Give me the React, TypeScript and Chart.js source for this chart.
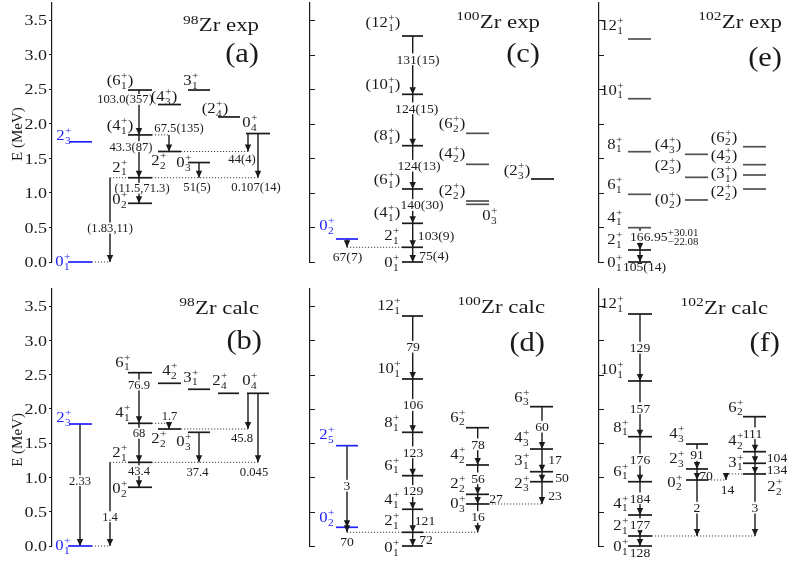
import React, { useEffect, useRef } from "react";
import { Chart, registerables } from "chart.js";
Chart.register(...registerables);

const FONT = '"Liberation Serif", "Times New Roman", serif';
const INK = "#1a1a1a";
const BLUE = "#2222ff";
const GRAY = "#505050";

// ---------------- DATA ----------------
// (a) 98Zr experiment
const aNames = ["0_1^+", "2_3^+", "2_1^+", "0_2^+", "(4_1^+)", "(6_1^+)", "(4_3^+)", "3_1^+", "(2_4^+)", "0_4^+", "2_2^+", "0_3^+"];
const aE = [0, 1.74, 1.22, 0.85, 1.84, 2.49, 2.28, 2.49, 2.1, 1.86, 1.6, 1.44];
const aFrom = [2, 5, 4, 2, 4, 11, 9, 9];
const aTo = [0, 4, 2, 3, 10, 2, 10, 2];
const aB = ["(1.83,11)", "103.0(357)", "43.3(87)", "(11.5,71.3)", "67.5(135)", "51(5)", "44(4)", "0.107(14)"];

// (b) 98Zr calculation
const bNames = ["0_1^+", "2_3^+", "2_1^+", "0_2^+", "4_1^+", "6_1^+", "2_2^+", "4_2^+", "3_1^+", "0_3^+", "2_4^+", "0_4^+"];
const bE = [0, 1.78, 1.221, 0.857, 1.79, 2.529, 1.707, 2.374, 2.287, 1.659, 2.228, 2.228];
const bFrom = [1, 2, 5, 4, 2, 4, 9, 11, 11];
const bTo = [0, 0, 4, 2, 3, 6, 2, 6, 2];
const bB = ["2.33", "1.4", "76.9", "68", "43.4", "1.7", "37.4", "45.8", "0.045"];

// (c) 100Zr experiment
const cNames = ["0_1^+", "2_1^+", "0_2^+", "(4_1^+)", "(6_1^+)", "(8_1^+)", "(10_1^+)", "(12_1^+)", "(6_2^+)", "(4_2^+)", "(2_2^+)", "0_3^+", "(2_3^+)"];
const cE = [0, 0.213, 0.333, 0.56, 1.057, 1.684, 2.428, 3.272, 1.863, 1.414, 0.883, 0.835, 1.202];
const cFrom = [2, 7, 6, 5, 4, 3, 1];
const cTo = [1, 6, 5, 4, 3, 1, 0];
const cB = ["67(7)", "131(15)", "124(15)", "124(13)", "140(30)", "103(9)", "75(4)"];

// (d) 100Zr calculation
const dNames = ["0_1^+", "2_1^+", "0_2^+", "2_5^+", "4_1^+", "6_1^+", "8_1^+", "10_1^+", "12_1^+", "6_2^+", "4_2^+", "2_2^+", "0_3^+", "6_3^+", "4_3^+", "3_1^+", "2_3^+"];
const dE = [0, 0.2, 0.273, 1.464, 0.536, 1.026, 1.659, 2.437, 3.356, 1.726, 1.182, 0.754, 0.613, 2.033, 1.415, 1.084, 0.938];
const dFrom = [3, 2, 8, 7, 6, 5, 4, 1, 9, 10, 11, 12, 13, 14, 15, 16];
const dTo = [2, 1, 7, 6, 5, 4, 1, 0, 10, 11, 12, 1, 14, 15, 16, 12];
const dB = ["3", "70", "79", "106", "123", "129", "121", "72", "78", "56", "27", "16", "60", "17", "50", "23"];

// (e) 102Zr experiment
const eNames = ["12_1^+", "10_1^+", "8_1^+", "6_1^+", "4_1^+", "2_1^+", "0_1^+", "(0_2^+)", "(2_3^+)", "(4_3^+)", "(2_2^+)", "(3_1^+)", "(4_2^+)", "(6_2^+)"];
const eE = [3.229, 2.364, 1.597, 0.98, 0.497, 0.174, 0, 0.898, 1.226, 1.559, 1.057, 1.26, 1.409, 1.669];
const eFrom = [4, 5];
const eTo = [5, 6];
const eB = ["166.95^{+30.01}_{\u221222.08}", "105(14)"];

// (f) 102Zr calculation
const fNames = ["12_1^+", "10_1^+", "8_1^+", "6_1^+", "4_1^+", "2_1^+", "0_1^+", "4_3^+", "2_3^+", "0_2^+", "6_2^+", "4_2^+", "3_1^+", "2_2^+"];
const fE = [3.385, 2.408, 1.595, 0.938, 0.452, 0.146, 0, 1.488, 1.124, 0.963, 1.887, 1.376, 1.207, 1.051];
const fFrom = [0, 1, 2, 3, 4, 5, 7, 8, 9, 13, 10, 11, 12, 13];
const fTo = [1, 2, 3, 4, 5, 6, 8, 9, 5, 9, 11, 12, 13, 5];
const fB = ["129", "157", "176", "184", "177", "128", "91", "70", "2", "14", "111", "104", "134", "3"];

const yTickStep = 0.5;
const yMax = 3.75;

// ---------------- LAYOUT (horizontal columns, label offsets) ----------------
const aLX = [[68, 92], [69, 92], [128, 152], [128, 152], [128, 152], [128, 152], [158, 181], [188, 210], [218, 240], [246, 270], [158, 181], [188, 210]];
const aLab = [[63, -1], [64, -7], [120, -11], [120, -4], [120, -10], [120, -10], [164, -8], [191, -10], [215, -9], [250, -11], [159, 9], [184, 0]];
const aArrX = [110, 139, 139, 139, 169, 199, 248, 258];
const aBLab = [[110, 0.492, 1], [125, 2.355, 1], [131, 1.67, 1], [142, 1.067, 1], [179, 1.936, 0], [197, 1.08, 0], [242, 1.49, 0], [256, 1.08, 0]];
const aDots = [[0, 92, 110], [2, 110, 128], [2, 152, 258], [4, 152, 169], [10, 181, 248]];

const bLX = [[68, 92], [69, 92], [128, 152], [128, 152], [128, 152], [128, 152], [158, 181], [158, 181], [188, 210], [188, 210], [218, 239], [247, 269]];
const bLab = [[63, -1], [64, -7], [120, -10.5], [120, 1], [123, -11.5], [123, -11], [159, 9], [170, -13], [191, -12.5], [184, 9], [220, -13], [250, -13]];
const bArrX = [80, 110, 139, 139, 139, 169, 199, 248, 258];
const bBLab = [[80, 0.953, 1], [110, 0.428, 1], [139, 2.349, 1], [139, 1.645, 1], [139, 1.099, 1], [169.5, 1.897, 0], [197.5, 1.084, 0], [242, 1.572, 0], [254, 1.075, 0]];
const bDots = [[0, 92, 110], [2, 110, 128], [2, 152, 258], [4, 152, 169], [6, 181, 248]];

const cLX = [[402, 423], [402, 423], [336, 358], [402, 423], [402, 423], [402, 423], [402, 423], [402, 423], [466, 489], [466, 489], [466, 489], [466, 489], [531, 554]];
const cLab = [[392, 0], [392, -12], [327, -14], [387, -11.5], [387, -10], [387, -10.5], [383, -10], [383, -14], [452, -10.5], [452, -11], [452, -11], [490, 11], [517, -9]];
const cArrX = [347, 412.7, 412.7, 412.7, 412.7, 412.7, 412.7];
const cBLab = [[347.5, 0.072, 0], [418, 2.935, 1], [416.7, 2.225, 1], [419, 1.394, 1], [422, 0.825, 1], [436, 0.376, 0], [434, 0.087, 0]];
const cDots = [[1, 347, 402]];

const dLX = [[402, 423], [402, 423], [336, 358], [336, 358], [402, 423], [402, 423], [402, 423], [402, 423], [402, 423], [466, 489], [466, 489], [466, 489], [466, 489], [530, 553], [530, 553], [530, 553], [530, 553]];
const dLab = [[392, 1], [392, -12], [327, -10], [327, -11.5], [392, -10], [392, -11], [392, -10.5], [389, -10.5], [389, -11], [458, -11], [458, -10.5], [458, -11], [458, -1], [522, -10], [522, -12], [522, -11.5], [522, 1]];
const dArrX = [347, 347, 412.7, 412.7, 412.7, 412.7, 412.7, 412.7, 477.7, 477.7, 477.7, 477.7, 542, 542, 542, 542];
const dBLab = [[347, 0.88, 1], [347, 0.063, 0], [413, 2.908, 1], [413, 2.058, 1], [413, 1.367, 1], [413, 0.803, 1], [425, 0.369, 0], [426, 0.088, 0], [478, 1.484, 1], [478, 0.988, 1], [496, 0.686, 0], [478, 0.423, 1], [542, 1.741, 1], [555, 1.265, 0], [562, 1.003, 0], [555, 0.73, 0]];
const dDots = [[1, 347, 402], [1, 423, 478], [12, 489, 542]];

const eLX = [[628, 651], [628, 651], [628, 651], [628, 651], [628, 651], [628, 651], [628, 651], [685, 708], [685, 708], [685, 708], [743, 766], [743, 766], [743, 766], [743, 766]];
const eLab = [[612, -14], [612, -9], [615, -8], [615, -10], [615, -11], [615, -10.7], [615, 0], [668, -1], [668, -12], [668, -10], [724, 2.5], [724, -2], [724, -10], [724, -10]];
const eArrX = [640, 640];
const eBLab = [[630, 0.366, 1, 1, 0.8], [644.5, -0.07, 0]];
const eDots: number[][] = [];

const fLX = [[628, 652], [628, 652], [628, 652], [628, 652], [628, 652], [628, 652], [628, 652], [686, 708], [686, 708], [686, 708], [743, 766], [743, 766], [743, 766], [743, 766]];
const fLab = [[612, -10.7], [612, -11.7], [621, -10], [621, -11], [621, -12.3], [621, -11], [621, 0], [677, -10.7], [677, -10.7], [675, 1.7], [736, -10], [736, -11.7], [736, -1.6], [775, 12]];
const fArrX = [640, 640, 640, 640, 640, 640, 697, 697, 697, 726, 755, 755, 755, 755];
const fBLab = [[640, 2.894, 1], [640, 2.009, 1], [640, 1.261, 1], [640, 0.696, 1], [640, 0.317, 1], [640, -0.098, 0], [697, 1.328, 1], [706, 1.021, 0], [697, 0.559, 1], [727.5, 0.827, 0], [752.5, 1.645, 1], [777, 1.294, 0], [777, 1.119, 0], [755, 0.559, 1]];
const fDots = [[5, 652, 755], [9, 708, 726], [13, 726, 743]];

type Geo = {
  axisX: number; right: number; top: number; bottom: number; left: boolean;
  title: string; tRight: number; tE: number; tag: string; gRight: number; gE: number;
  yTitleE?: number; fs: number;
};
type Panel = {
  names: string[]; E: number[]; from: number[]; to: number[]; b: string[];
  lx: number[][]; lab: number[][]; blue: number[]; gray: number[];
  ax: number[]; blab: number[][]; dots: number[][]; geo: Geo;
};

const PANELS: Panel[] = [
  { names: aNames, E: aE, from: aFrom, to: aTo, b: aB, lx: aLX, lab: aLab, blue: [0, 1], gray: [], ax: aArrX, blab: aBLab, dots: aDots,
    geo: { axisX: 52, right: 290, top: 3, bottom: 262, left: true, title: "^{98}Zr exp", tRight: 259, tE: 3.431, tag: "(a)", gRight: 259, gE: 3.026, yTitleE: 1.853, fs: 12 } },
  { names: bNames, E: bE, from: bFrom, to: bTo, b: bB, lx: bLX, lab: bLab, blue: [0, 1], gray: [], ax: bArrX, blab: bBLab, dots: bDots,
    geo: { axisX: 52, right: 290, top: 289, bottom: 546, left: true, title: "^{98}Zr calc", tRight: 259, tE: 3.473, tag: "(b)", gRight: 262, gE: 3.006, yTitleE: 1.547, fs: 12 } },
  { names: cNames, E: cE, from: cFrom, to: cTo, b: cB, lx: cLX, lab: cLab, blue: [2], gray: [8, 9, 10, 11], ax: cArrX, blab: cBLab, dots: cDots,
    geo: { axisX: 310, right: 590, top: 3, bottom: 262, left: false, title: "^{100}Zr exp", tRight: 540, tE: 3.475, tag: "(c)", gRight: 540, gE: 3.026, fs: 13 } },
  { names: dNames, E: dE, from: dFrom, to: dTo, b: dB, lx: dLX, lab: dLab, blue: [2, 3], gray: [], ax: dArrX, blab: dBLab, dots: dDots,
    geo: { axisX: 310, right: 590, top: 289, bottom: 546, left: false, title: "^{100}Zr calc", tRight: 545, tE: 3.492, tag: "(d)", gRight: 545, gE: 2.981, fs: 13 } },
  { names: eNames, E: eE, from: eFrom, to: eTo, b: eB, lx: eLX, lab: eLab, blue: [], gray: [0, 1, 2, 3, 4, 7, 8, 9, 10, 11, 12, 13], ax: eArrX, blab: eBLab, dots: eDots,
    geo: { axisX: 599, right: 790, top: 3, bottom: 262, left: false, title: "^{102}Zr exp", tRight: 782, tE: 3.475, tag: "(e)", gRight: 782, gE: 2.968, fs: 13 } },
  { names: fNames, E: fE, from: fFrom, to: fTo, b: fB, lx: fLX, lab: fLab, blue: [], gray: [], ax: fArrX, blab: fBLab, dots: fDots,
    geo: { axisX: 599, right: 790, top: 289, bottom: 546, left: false, title: "^{102}Zr calc", tRight: 768, tE: 3.473, tag: "(f)", gRight: 780, gE: 2.981, fs: 13 } },
];

// ---------------- rich text (sub/superscripts) ----------------
function parseRich(s: string) {
  const out: any[] = [];
  let buf = "";
  let i = 0;
  const arg = () => {
    if (s[i] === "{") {
      const j = s.indexOf("}", i);
      const a = s.slice(i + 1, j);
      i = j + 1;
      return a;
    }
    return s[i++];
  };
  while (i < s.length) {
    const c = s[i];
    if (c === "_" || c === "^") {
      if (buf) { out.push({ t: buf }); buf = ""; }
      i++;
      const a = arg();
      const key = c === "^" ? "sup" : "sub";
      const last = out[out.length - 1];
      if (last && last.t === undefined && last[key] === undefined) last[key] = a;
      else out.push({ [key]: a });
    } else {
      buf += c;
      i++;
    }
  }
  if (buf) out.push({ t: buf });
  return out;
}

function drawRich(ctx: CanvasRenderingContext2D, s: string, x: number, cy: number, size: number,
  o: { align?: string; color?: string; sx?: number; bg?: boolean; sr?: number }) {
  const segs = parseRich(s);
  const sx = o.sx ?? 1;
  const sr = o.sr ?? 0.68;
  const mf = `${size}px ${FONT}`;
  const sf = `${(size * sr).toFixed(2)}px ${FONT}`;
  const ws = segs.map((g: any) => {
    if (g.t !== undefined) { ctx.font = mf; return ctx.measureText(g.t).width; }
    ctx.font = sf;
    return Math.max(g.sup ? ctx.measureText(g.sup).width : 0, g.sub ? ctx.measureText(g.sub).width : 0) + size * 0.04;
  });
  const total = ws.reduce((a: number, b: number) => a + b, 0) * sx;
  const x0 = o.align === "left" ? x : o.align === "right" ? x - total : x - total / 2;
  if (o.bg) {
    ctx.fillStyle = "#ffffff";
    ctx.fillRect(x0 - 1, cy - size * 0.45, total + 2, size * 0.9);
  }
  ctx.save();
  ctx.translate(x0, cy + size * 0.34);
  ctx.scale(sx, 1);
  ctx.fillStyle = o.color || INK;
  ctx.textBaseline = "alphabetic";
  ctx.textAlign = "left";
  let cx = 0;
  segs.forEach((g: any, k: number) => {
    if (g.t !== undefined) {
      ctx.font = mf;
      ctx.fillText(g.t, cx, 0);
    } else {
      ctx.font = sf;
      if (g.sup) ctx.fillText(g.sup, cx + size * 0.02, -size * 0.42);
      if (g.sub) ctx.fillText(g.sub, cx + size * 0.02, size * 0.26);
    }
    cx += ws[k];
  });
  ctx.restore();
}

function makePlugin(p: Panel) {
  return {
    id: "levelScheme",
    afterDatasetsDraw(chart: any) {
      const ctx: CanvasRenderingContext2D = chart.ctx;
      const xs = chart.scales.x;
      const ys = chart.scales.y;
      const ca = chart.chartArea;
      const g = p.geo;
      ctx.save();
      // arrow heads at the end point of every transition line
      chart.data.datasets.forEach((ds: any, i: number) => {
        if (!ds.arrow) return;
        const pts = chart.getDatasetMeta(i).data;
        const a = pts[0], b = pts[1];
        const dir = b.y >= a.y ? 1 : -1;
        ctx.fillStyle = INK;
        ctx.beginPath();
        ctx.moveTo(b.x, b.y);
        ctx.lineTo(b.x - 3.2, b.y - dir * 7);
        ctx.lineTo(b.x + 3.2, b.y - dir * 7);
        ctx.closePath();
        ctx.fill();
      });
      // ticks
      ys.ticks.forEach((t: any) => {
        const y = ys.getPixelForValue(t.value);
        if (g.left) {
          drawRich(ctx, Number(t.value).toFixed(1), ca.left - 5, y, 15, { align: "right", sx: 1.2 });
        } else {
          ctx.strokeStyle = INK;
          ctx.lineWidth = 1;
          ctx.beginPath();
          ctx.moveTo(ca.left, Math.round(y) + 0.5);
          ctx.lineTo(ca.left + 5, Math.round(y) + 0.5);
          ctx.stroke();
        }
      });
      if (g.left && g.yTitleE !== undefined) {
        ctx.save();
        ctx.translate(18, ys.getPixelForValue(g.yTitleE));
        ctx.rotate(-Math.PI / 2);
        ctx.font = `15px ${FONT}`;
        ctx.fillStyle = INK;
        ctx.textAlign = "center";
        ctx.textBaseline = "middle";
        ctx.fillText("E (MeV)", 0, 0);
        ctx.restore();
      }
      // transition labels
      p.b.forEach((s, k) => {
        const [cx, E, bg, left, sr] = p.blab[k];
        drawRich(ctx, s, xs.getPixelForValue(cx), ys.getPixelForValue(E), g.fs,
          { bg: !!bg, align: left ? "left" : "center", sx: 1.05, sr: sr || 0.68 });
      });
      // level labels
      p.names.forEach((s, i) => {
        const [cx, dy] = p.lab[i];
        drawRich(ctx, s, xs.getPixelForValue(cx), ys.getPixelForValue(p.E[i]) + dy, 14.5,
          { color: p.blue.includes(i) ? BLUE : INK, sx: 1.15 });
      });
      // titles
      drawRich(ctx, g.title, xs.getPixelForValue(g.tRight), ys.getPixelForValue(g.tE), 19, { align: "right", sx: 1.2 });
      drawRich(ctx, g.tag, xs.getPixelForValue(g.gRight), ys.getPixelForValue(g.gE), 27, { align: "right", sx: 1.13 });
      ctx.restore();
    },
  };
}

function buildConfig(p: Panel): any {
  const g = p.geo;
  const yw = g.left ? 3 : 1;
  const common = { showLine: true, pointRadius: 0, pointHoverRadius: 0, clip: false, fill: false, borderCapStyle: "butt" };
  const datasets: any[] = [];
  p.dots.forEach(([li, x0, x1]) => {
    datasets.push({ ...common, data: [{ x: x0, y: p.E[li] }, { x: x1, y: p.E[li] }], borderColor: "#444", borderWidth: 1, borderDash: [1.2, 1.8] });
  });
  p.names.forEach((_, i) => {
    const color = p.blue.includes(i) ? BLUE : p.gray.includes(i) ? GRAY : INK;
    datasets.push({ ...common, data: [{ x: p.lx[i][0], y: p.E[i] }, { x: p.lx[i][1], y: p.E[i] }], borderColor: color, borderWidth: 1.7 });
  });
  p.from.forEach((f, k) => {
    datasets.push({ ...common, arrow: true, data: [{ x: p.ax[k], y: p.E[f] }, { x: p.ax[k], y: p.E[p.to[k]] }], borderColor: INK, borderWidth: 1.4 });
  });
  return {
    type: "scatter",
    data: { datasets },
    options: {
      responsive: false,
      animation: false,
      devicePixelRatio: 1,
      events: [],
      layout: { padding: { left: g.axisX - yw, right: 790 - g.right, top: g.top, bottom: 565 - g.bottom } },
      plugins: { legend: { display: false }, tooltip: { enabled: false } },
      scales: {
        x: { type: "linear", display: false, min: g.axisX, max: g.right },
        y: {
          type: "linear", position: "left", min: 0, max: yMax,
          afterFit: (s: any) => { s.width = yw; },
          ticks: { display: false, stepSize: yTickStep, includeBounds: false },
          grid: { drawOnChartArea: false, drawTicks: g.left, tickLength: 3, color: INK, lineWidth: 1 },
          border: { display: true, color: INK, width: 1.2 },
        },
      },
    },
    plugins: [makePlugin(p)],
  };
}

export default function App() {
  const refs = useRef<(HTMLCanvasElement | null)[]>([]);
  useEffect(() => {
    const charts = PANELS.map((p, i) => new Chart(refs.current[i] as HTMLCanvasElement, buildConfig(p)));
    return () => charts.forEach((c) => c.destroy());
  }, []);
  return (
    <div style={{ position: "absolute", left: 0, top: 0, width: 790, height: 565, background: "#fff", overflow: "hidden" }}>
      {PANELS.map((_, i) => (
        <canvas
          key={i}
          ref={(el) => { refs.current[i] = el; }}
          width={790}
          height={565}
          style={{ position: "absolute", left: 0, top: 0, width: 790, height: 565 }}
        />
      ))}
    </div>
  );
}
